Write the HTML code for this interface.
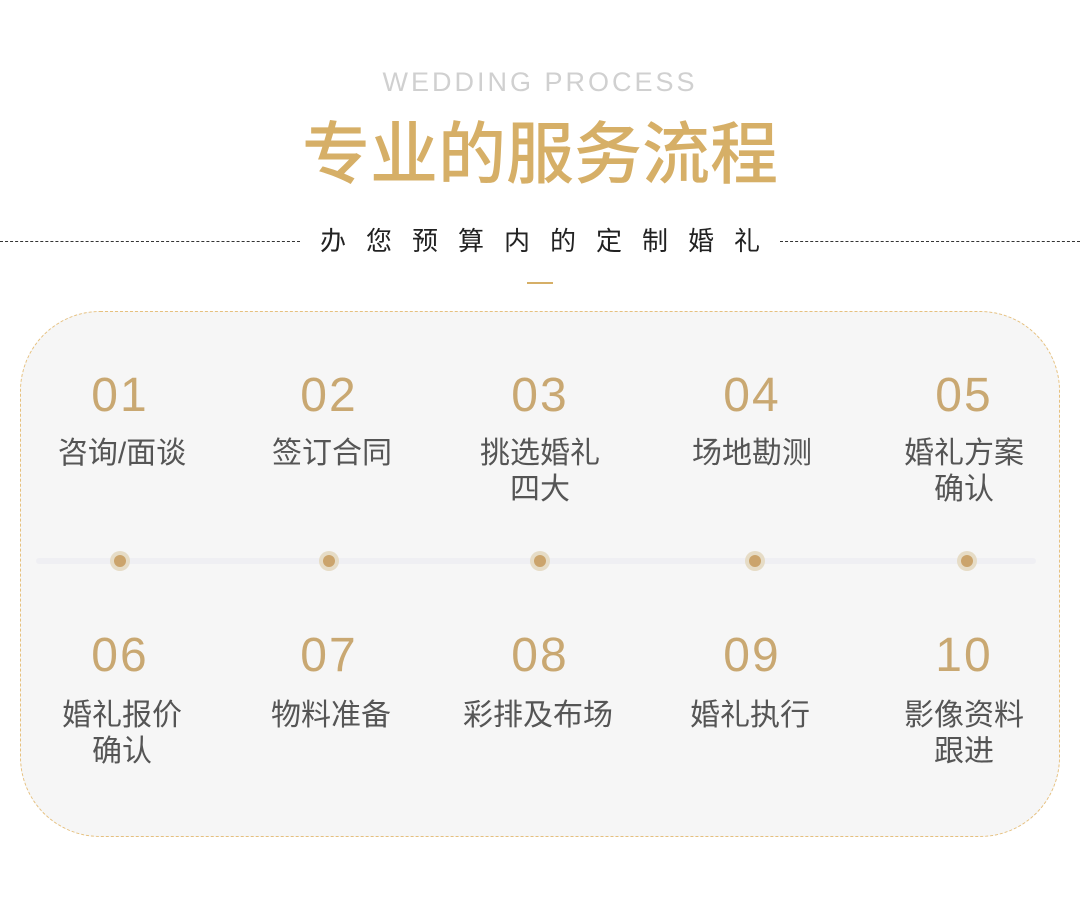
<!DOCTYPE html>
<html><head><meta charset="utf-8"><style>
body{margin:0;width:1080px;height:897px;background:#fff;position:relative;overflow:hidden;font-family:"Liberation Sans","Noto Sans CJK SC",sans-serif}
.a{position:absolute;white-space:nowrap}
.en{left:0;width:1080px;text-align:center;top:64px;font-size:27px;letter-spacing:3px;color:#d0d0d0;line-height:36px}
.t{left:0;width:1080px;text-align:center;top:115px;font-size:68px;font-weight:500;color:#d6af67;line-height:80px}
.sub{left:320px;top:224px;font-size:26px;letter-spacing:20px;color:#222;line-height:34px}
.dl{top:241px;height:0;border-top:1.5px dashed #333}
.card{left:20px;top:311px;width:1040px;height:526px;box-sizing:border-box;border:1px dashed #e6c07e;border-radius:80px;background:#f6f6f6}
.line{left:36px;top:558px;width:1000px;height:6px;background:#efeff3;border-radius:3px}
.dot{width:20px;height:20px;border-radius:50%;background:#e6dcc6;top:551px}
.dot i{position:absolute;left:4px;top:4px;width:12px;height:12px;border-radius:50%;background:#cba46c}
.n{width:200px;text-align:center;font-size:48px;color:#c9a872;line-height:56px;letter-spacing:2px}
.l{width:240px;text-align:center;font-size:30px;color:#555;line-height:36px}
</style></head><body>
<div class="a en">WEDDING PROCESS</div>
<div class="a t">专业的服务流程</div>
<div class="a dl" style="left:0;width:300px"></div>
<div class="a dl" style="left:780px;width:300px"></div>
<div class="a sub">办您预算内的定制婚礼</div>
<div class="a" style="left:527px;top:282px;width:26px;height:2px;background:#d6af67"></div>
<div class="a card"></div>
<div class="a line"></div>

<div class="a dot" style="left:110px"><i></i></div>
<div class="a dot" style="left:319px"><i></i></div>
<div class="a dot" style="left:530px"><i></i></div>
<div class="a dot" style="left:745px"><i></i></div>
<div class="a dot" style="left:957px"><i></i></div>

<div class="a n" style="left:20px;top:368px">01</div>
<div class="a n" style="left:229px;top:368px">02</div>
<div class="a n" style="left:440px;top:368px">03</div>
<div class="a n" style="left:652px;top:368px">04</div>
<div class="a n" style="left:864px;top:368px">05</div>
<div class="a l" style="left:2px;top:436px">咨询/面谈</div>
<div class="a l" style="left:212px;top:436px">签订合同</div>
<div class="a l" style="left:420px;top:436px">挑选婚礼<br>四大</div>
<div class="a l" style="left:632px;top:436px">场地勘测</div>
<div class="a l" style="left:844px;top:436px">婚礼方案<br>确认</div>

<div class="a n" style="left:20px;top:628px">06</div>
<div class="a n" style="left:229px;top:628px">07</div>
<div class="a n" style="left:440px;top:628px">08</div>
<div class="a n" style="left:652px;top:628px">09</div>
<div class="a n" style="left:864px;top:628px">10</div>
<div class="a l" style="left:2px;top:698px">婚礼报价<br>确认</div>
<div class="a l" style="left:211px;top:698px">物料准备</div>
<div class="a l" style="left:418px;top:698px">彩排及布场</div>
<div class="a l" style="left:630px;top:698px">婚礼执行</div>
<div class="a l" style="left:844px;top:698px">影像资料<br>跟进</div>
</body></html>
